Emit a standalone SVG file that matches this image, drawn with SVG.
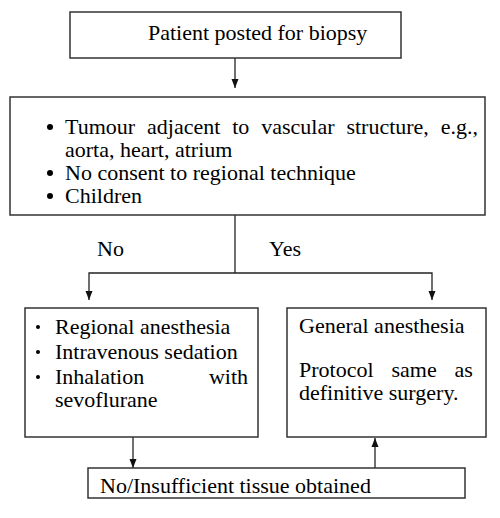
<svg xmlns="http://www.w3.org/2000/svg" width="500" height="518" viewBox="0 0 500 518">
<style>
.box{fill:#fff;stroke:#333;stroke-width:1.5}
text{font-family:'Liberation Serif',Tinos,'Times New Roman','DejaVu Serif',serif;font-size:22px;fill:#000}
.c{fill:none;stroke:#222;stroke-width:1.3}
</style>
<defs>
<marker id="ah" markerUnits="userSpaceOnUse" markerWidth="10" markerHeight="10" viewBox="0 0 10 10" refX="9" refY="5" orient="auto">
<path d="M0,1.5 L9,5 L0,8.5 Z" fill="#111"/>
</marker>
</defs>
<rect width="500" height="518" fill="#fff"/>
<g id="connectors">
<line class="c" x1="235" y1="58" x2="235" y2="88" marker-end="url(#ah)"/>
<polyline class="c" points="235,215 235,273"/>
<polyline class="c" points="235,273 89,273 89,300" marker-end="url(#ah)"/>
<polyline class="c" points="235,273 432,273 432,300" marker-end="url(#ah)"/>
<line class="c" x1="133" y1="437" x2="133" y2="468" marker-end="url(#ah)"/>
<line class="c" x1="375" y1="468" x2="375" y2="438" marker-end="url(#ah)"/>
<text x="97" y="256">No</text>
<text x="269" y="256">Yes</text>
</g>
<g id="start">
<rect class="box" x="70" y="12" width="331" height="46"/>
<text x="148" y="40">Patient posted for biopsy</text>
</g>
<g id="criteria">
<rect class="box" x="10" y="97" width="475" height="118"/>
<circle cx="50" cy="127" r="3" fill="#000"/>
<circle cx="50" cy="173" r="3" fill="#000"/>
<circle cx="50" cy="196" r="3" fill="#000"/>
<text x="65" y="134" style="word-spacing:6.4px">Tumour adjacent to vascular structure, e.g.,</text>
<text x="65" y="157">aorta, heart, atrium</text>
<text x="65" y="180">No consent to regional technique</text>
<text x="65" y="203">Children</text>
</g>
<g id="regional">
<rect class="box" x="25" y="308" width="233" height="129"/>
<circle cx="38" cy="327" r="2" fill="#000"/>
<circle cx="38" cy="352" r="2" fill="#000"/>
<circle cx="38" cy="377" r="2" fill="#000"/>
<text x="55" y="334">Regional anesthesia</text>
<text x="55" y="359">Intravenous sedation</text>
<text x="55" y="384">Inhalation</text>
<text x="248" y="384" text-anchor="end">with</text>
<text x="55" y="407">sevoflurane</text>
</g>
<g id="general">
<rect class="box" x="287" y="308" width="199" height="129"/>
<text x="299" y="333">General anesthesia</text>
<text x="299" y="377" style="word-spacing:12.4px">Protocol same as</text>
<text x="299" y="400">definitive surgery.</text>
</g>
<g id="insufficient">
<rect class="box" x="88" y="468" width="377" height="30"/>
<text x="100" y="493">No/Insufficient tissue obtained</text>
</g>
</svg>
